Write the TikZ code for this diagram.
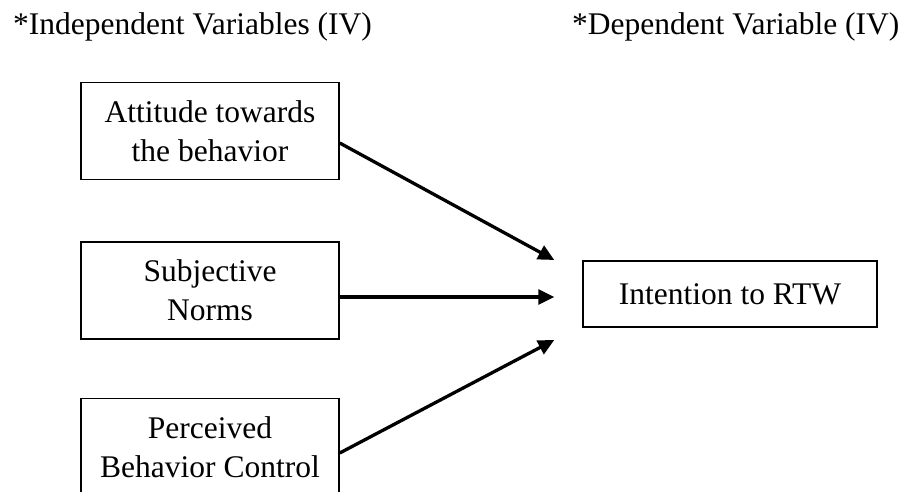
\documentclass[tikz,border=0pt]{standalone}
\usepackage{fontspec}
\setmainfont{Liberation Serif}
\usetikzlibrary{arrows.meta}
\begin{document}
\begin{tikzpicture}[x=1pt,y=-1pt,
  every node/.style={font=\fontsize{31.5}{39}\selectfont},
  varbox/.style={draw=black,line width=1.5pt,minimum width=258pt,minimum height=97pt,inner sep=0pt,align=center},
  depbox/.style={draw=black,line width=1.5pt,minimum width=294pt,minimum height=66pt,inner sep=0pt,align=center},
  link/.style={line width=3.3pt,-{Triangle[length=16pt,width=15pt]}}]
  \useasboundingbox (0,0) rectangle (910,492);
  % Headings
  \node[anchor=base west,inner sep=0pt] (ivhead) at (13,35) {*Independent Variables (IV)};
  \node[anchor=base west,inner sep=0pt] (dvhead) at (572,35) {*Dependent Variable (IV)};
  % Independent variables
  \node[varbox] (att) at (210,131) {Attitude towards\\the behavior};
  \node[varbox] (norm) at (210,290.5) {Subjective\\Norms};
  \node[varbox] (pbc) at (210,447) {Perceived\\Behavior Control};
  % Dependent variable
  \node[depbox] (rtw) at (730,294) {Intention to RTW};
  \coordinate (tipA) at ([xshift=-28pt,yshift=34pt]rtw.west);
  \coordinate (tipB) at ([xshift=-28pt,yshift=-3pt]rtw.west);
  \coordinate (tipC) at ([xshift=-28pt,yshift=-46pt]rtw.west);
  % Paths
  \draw[link] ([yshift=-12pt]att.east) -- (tipA);
  \draw[link] ([yshift=-6.5pt]norm.east) -- (tipB);
  \draw[link] ([yshift=-6pt]pbc.east) -- (tipC);
\end{tikzpicture}
\end{document}
